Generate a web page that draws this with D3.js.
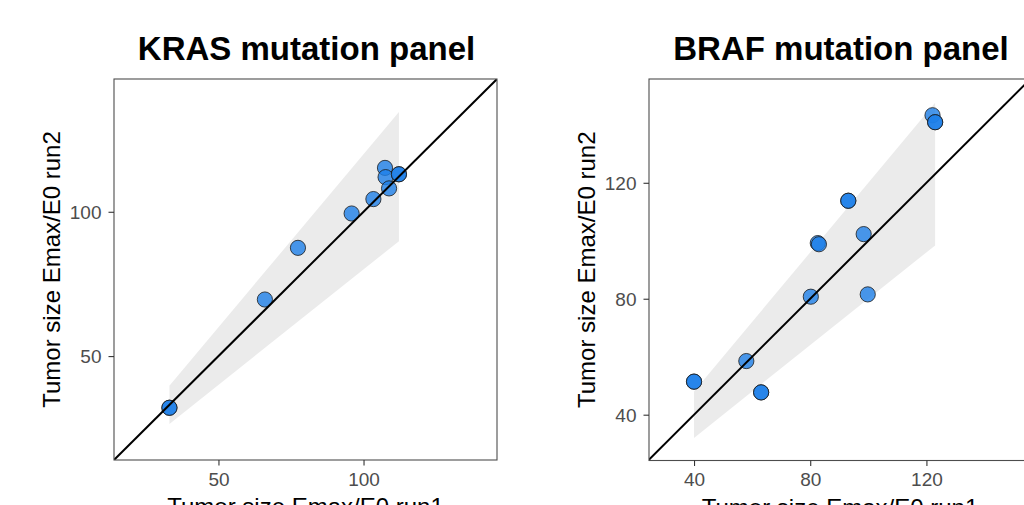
<!DOCTYPE html>
<html><head><meta charset="utf-8">
<script src="https://cdn.jsdelivr.net/npm/d3@7"></script>
<style>body{margin:0;background:#fff;}svg{display:block;font-family:"Liberation Sans",Arial,sans-serif;}</style>
</head><body>
<svg id="chart" width="1024" height="505"></svg>
<script>
// KRAS panel data
const krasRun1 = [33.1, 33.1, 66.0, 77.4, 95.9, 103.4, 107.4, 107.6, 108.8, 112.2, 112.2];
const krasRun2 = [32.1, 32.1, 69.6, 87.5, 99.4, 104.4, 115.2, 112.0, 108.1, 113.0, 113.0];
const krasRibbonX = [33.1, 112.2];
const krasRibbonLo = [26.5, 89.8];
const krasRibbonHi = [39.7, 134.6];
const krasTicks = [50, 100];

// BRAF panel data
const brafRun1 = [40.0, 40.0, 58.0, 63.1, 63.1, 80.2, 82.6, 83.0, 93.1, 93.1, 98.4, 99.8, 122.1, 123.0, 123.0];
const brafRun2 = [51.4, 51.4, 58.5, 47.7, 47.7, 80.7, 99.2, 98.8, 113.8, 113.8, 102.3, 81.5, 143.3, 140.9, 140.9];
const brafRibbonX = [40.0, 123.0];
const brafRibbonLo = [32.0, 98.4];
const brafRibbonHi = [48.0, 147.6];
const brafTicks = [40, 80, 120];

const titles = ["KRAS mutation panel", "BRAF mutation panel"];
const xTitle = "Tumor size Emax/E0 run1";
const yTitle = "Tumor size Emax/E0 run2";

const svg = d3.select("#chart");

function panel(cfg) {
  const {left, top, width, height, xDom, yDom, run1, run2, rx, rlo, rhi, ticks, title, id} = cfg;
  const x = d3.scaleLinear().domain(xDom).range([left, left + width]);
  const y = d3.scaleLinear().domain(yDom).range([top + height, top]);
  const g = svg.append("g");

  g.append("clipPath").attr("id", id).append("rect")
    .attr("x", left).attr("y", top).attr("width", width).attr("height", height);
  const plot = g.append("g").attr("clip-path", `url(#${id})`);

  // ribbon
  const rib = rx.map((v, i) => ({x: v, lo: rlo[i], hi: rhi[i]}));
  plot.append("path").datum(rib)
    .attr("fill", "#EBEBEB")
    .attr("d", d3.area().x(d => x(d.x)).y0(d => y(d.lo)).y1(d => y(d.hi)));

  // points
  plot.selectAll("circle").data(run1.map((v, i) => [v, run2[i]])).join("circle")
    .attr("cx", d => x(d[0])).attr("cy", d => y(d[1])).attr("r", 7.6)
    .attr("fill", "#1E80E8").attr("fill-opacity", 0.8)
    .attr("stroke", "#1a1a1a").attr("stroke-width", 0.8);

  // identity line
  const lo = Math.min(xDom[0], yDom[0]) - 10, hi = Math.max(xDom[1], yDom[1]) + 10;
  plot.append("line")
    .attr("x1", x(lo)).attr("y1", y(lo)).attr("x2", x(hi)).attr("y2", y(hi))
    .attr("stroke", "#000").attr("stroke-width", 2);

  // border
  g.append("rect").attr("x", left).attr("y", top).attr("width", width).attr("height", height)
    .attr("fill", "none").attr("stroke", "#4D4D4D").attr("stroke-width", 1.1);

  // axes
  const xa = g.append("g").attr("transform", `translate(0,${top + height})`)
    .call(d3.axisBottom(x).tickValues(ticks).tickSize(5.5).tickPadding(6).tickFormat(d3.format("d")));
  const ya = g.append("g").attr("transform", `translate(${left},0)`)
    .call(d3.axisLeft(y).tickValues(ticks).tickSize(5.5).tickPadding(7).tickFormat(d3.format("d")));
  [xa, ya].forEach(a => {
    a.select(".domain").remove();
    a.selectAll(".tick line").attr("stroke", "#333333").attr("stroke-width", 1.1);
    a.selectAll(".tick text").attr("fill", "#4D4D4D").attr("font-size", 19)
      .attr("font-family", "Liberation Sans, Arial, sans-serif");
  });
  xa.selectAll(".tick text").attr("dy", "0.75em");
  ya.selectAll(".tick text").attr("dy", "0.36em");

  // titles
  g.append("text").attr("x", left + width / 2 + 1).attr("y", 59.5)
    .attr("text-anchor", "middle").attr("font-size", 33).attr("font-weight", "bold")
    .attr("fill", "#000").text(title);
  g.append("text").attr("x", left + width / 2).attr("y", top + height + 55)
    .attr("text-anchor", "middle").attr("font-size", 24).attr("fill", "#000").text(xTitle);
  g.append("text")
    .attr("transform", `translate(${left - 54},${top + height / 2}) rotate(-90)`)
    .attr("text-anchor", "middle").attr("font-size", 24).attr("fill", "#000").text(yTitle);
}

panel({id: "c1", left: 114, top: 79, width: 383, height: 381, xDom: [14, 146], yDom: [14, 146],
  run1: krasRun1, run2: krasRun2, rx: krasRibbonX, rlo: krasRibbonLo, rhi: krasRibbonHi,
  ticks: krasTicks, title: titles[0]});
panel({id: "c2", left: 649, top: 79, width: 382, height: 381.5, xDom: [24.5, 156], yDom: [24.2, 155.8],
  run1: brafRun1, run2: brafRun2, rx: brafRibbonX, rlo: brafRibbonLo, rhi: brafRibbonHi,
  ticks: brafTicks, title: titles[1]});
</script>
</body></html>
